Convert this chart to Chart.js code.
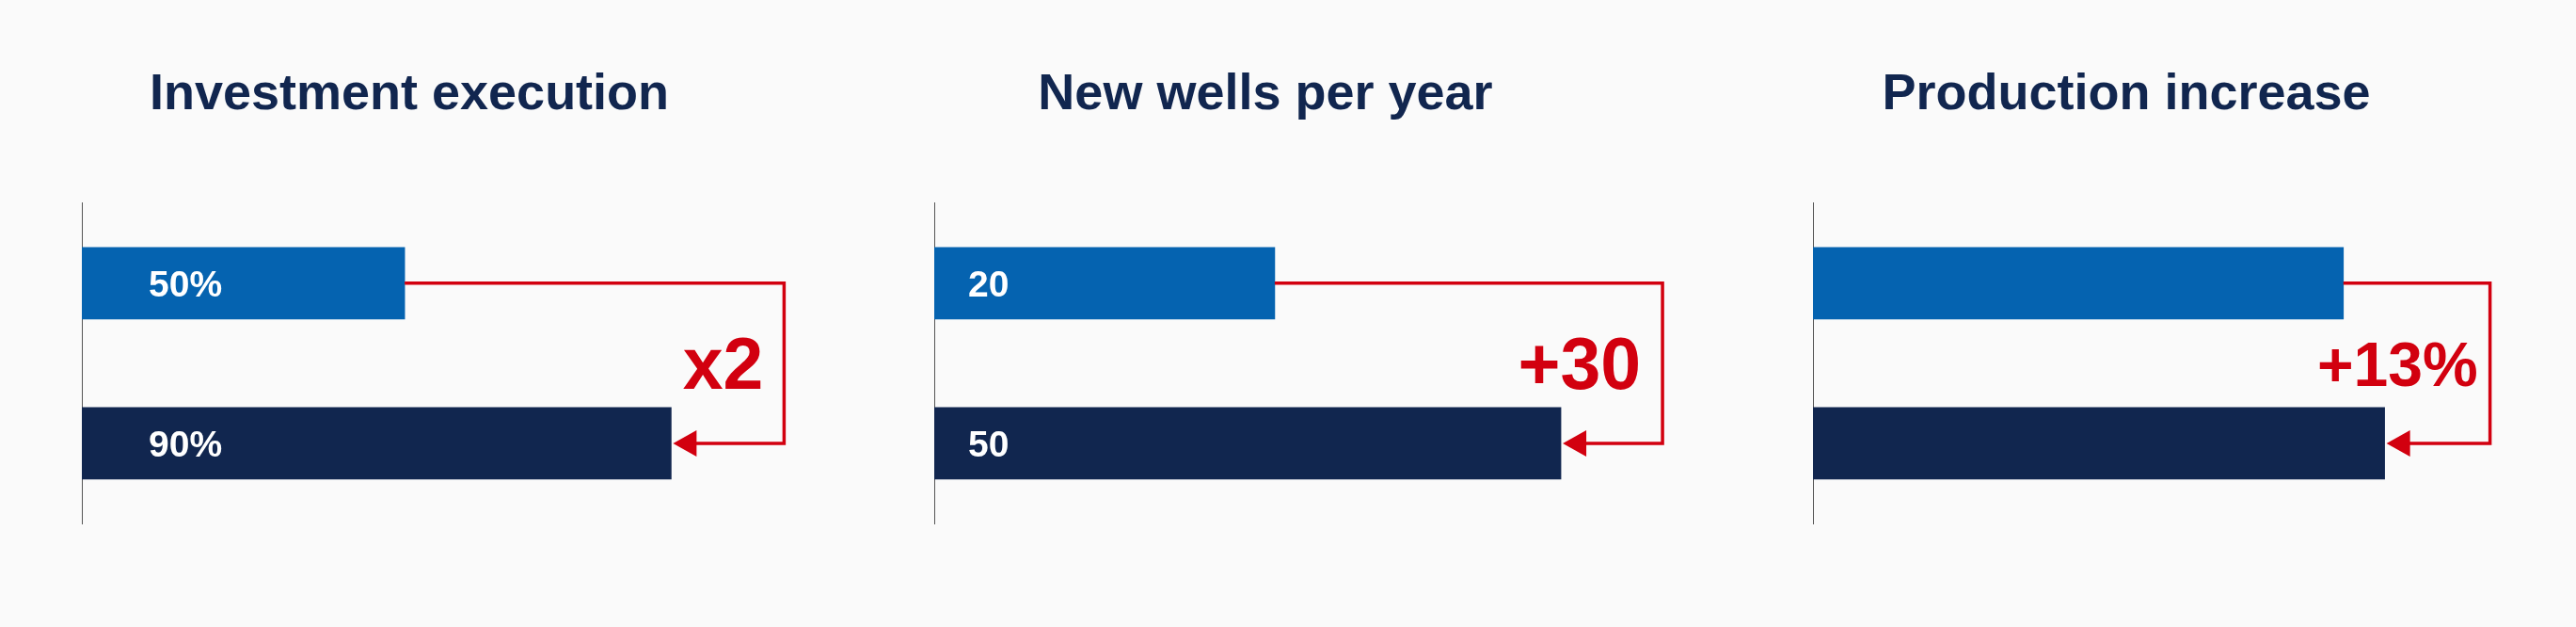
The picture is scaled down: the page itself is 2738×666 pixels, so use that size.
<!DOCTYPE html>
<html>
<head>
<meta charset="utf-8">
<script src="https://cdn.jsdelivr.net/npm/chart.js@4/dist/chart.umd.min.js"></script>
<style>
  html, body { margin: 0; padding: 0; background: #fafafa; overflow: hidden; }
  body { width: 2738px; height: 666px; position: relative; }
  .panel { position: absolute; top: 0; height: 666px; }
</style>
</head>
<body>
<div class="panel" style="left:0px"><canvas id="chart-0"></canvas></div>
<div class="panel" style="left:906px"><canvas id="chart-1"></canvas></div>
<div class="panel" style="left:1840px"><canvas id="chart-2"></canvas></div>

<script>
// data (bar lengths on a common scale, labels as printed)
const panelTitles = ['Investment execution', 'New wells per year', 'Production increase'];
const categories = ['Before', 'After'];
const investBars = [49.3, 90];
const wellsBars = [52, 95.7];
const productionBars = [81, 87.3];
const investLabels = ['50%', '90%'];
const wellsLabels = ['20', '50'];
const productionLabels = ['', ''];
const deltaTexts = ['x2', '+30', '+13%'];

const LIGHT = '#0563b0';
const NAVY = '#11264f';
const RED = '#d2000f';
const FONT = '"Liberation Sans", Arial, sans-serif';
const PX_PER_UNIT = 6.96; // same bar scale in every panel

// red elbow arrow, delta text and the white labels inside bars
const connectorPlugin = {
  id: 'connector',
  afterDatasetsDraw(chart, args, opts) {
    const bars = chart.getDatasetMeta(0).data;
    if (bars.length < 2) return;
    const a = bars[0], b = bars[1];
    const ctx = chart.ctx;
    const xr = b.x + opts.gap;

    ctx.save();
    ctx.strokeStyle = RED;
    ctx.lineWidth = 3.5;
    ctx.beginPath();
    ctx.moveTo(a.x, a.y);
    ctx.lineTo(xr, a.y);
    ctx.lineTo(xr, b.y);
    ctx.lineTo(b.x + 24, b.y);
    ctx.stroke();

    ctx.fillStyle = RED;
    ctx.beginPath();
    ctx.moveTo(b.x + 2, b.y);
    ctx.lineTo(b.x + 27, b.y - 14);
    ctx.lineTo(b.x + 27, b.y + 14);
    ctx.closePath();
    ctx.fill();

    ctx.font = `bold ${opts.size}px ${FONT}`;
    ctx.textAlign = 'right';
    ctx.textBaseline = 'alphabetic';
    ctx.fillText(opts.text, xr - opts.textGap, (a.y + b.y) / 2 + opts.size * 0.358);

    ctx.fillStyle = '#ffffff';
    ctx.font = `bold 39px ${FONT}`;
    ctx.textAlign = 'left';
    bars.forEach((bar, i) => {
      const txt = opts.labels[i];
      if (!txt) return;
      ctx.fillText(txt, bar.base + opts.inset, bar.y + 14);
    });
    ctx.restore();
  }
};

function renderPanel(idx, values, labels, style) {
  const canvas = document.getElementById(`chart-${idx}`);
  canvas.width = 900;
  canvas.height = 666;
  // title is centred over the plot area, so the area width sets the title position
  const areaWidth = style.titleCenter * 2;
  new Chart(canvas.getContext('2d'), {
    type: 'bar',
    data: {
      labels: categories,
      datasets: [{
        data: values,
        backgroundColor: [LIGHT, NAVY],
        barThickness: 76,
        borderWidth: 0
      }]
    },
    options: {
      indexAxis: 'y',
      responsive: false,
      animation: false,
      layout: { padding: { left: 87, right: 900 - 87 - areaWidth, top: 0, bottom: 110 } },
      plugins: {
        legend: { display: false },
        tooltip: { enabled: false },
        title: {
          display: true,
          text: panelTitles[idx],
          color: NAVY,
          font: { family: FONT, size: 54, weight: 'bold' },
          padding: { top: 69, bottom: 82 }
        },
        connector: {
          text: deltaTexts[idx],
          labels: labels,
          size: style.size,
          gap: style.gap,
          textGap: style.textGap,
          inset: style.inset
        }
      },
      scales: {
        x: { display: false, min: 0, max: areaWidth / PX_PER_UNIT },
        y: {
          display: true,
          ticks: { display: false },
          grid: { display: false, drawTicks: false },
          border: { display: true, color: '#555555', width: 1 }
        }
      }
    },
    plugins: [connectorPlugin]
  });
}

document.addEventListener('DOMContentLoaded', () => {
  renderPanel(0, investBars, investLabels, { titleCenter: 348, size: 77, gap: 120, textGap: 22, inset: 71 });
  renderPanel(1, wellsBars, wellsLabels, { titleCenter: 352, size: 77, gap: 108, textGap: 23, inset: 36 });
  renderPanel(2, productionBars, productionLabels, { titleCenter: 333, size: 66, gap: 112, textGap: 13, inset: 40 });
});
</script>
</body>
</html>
